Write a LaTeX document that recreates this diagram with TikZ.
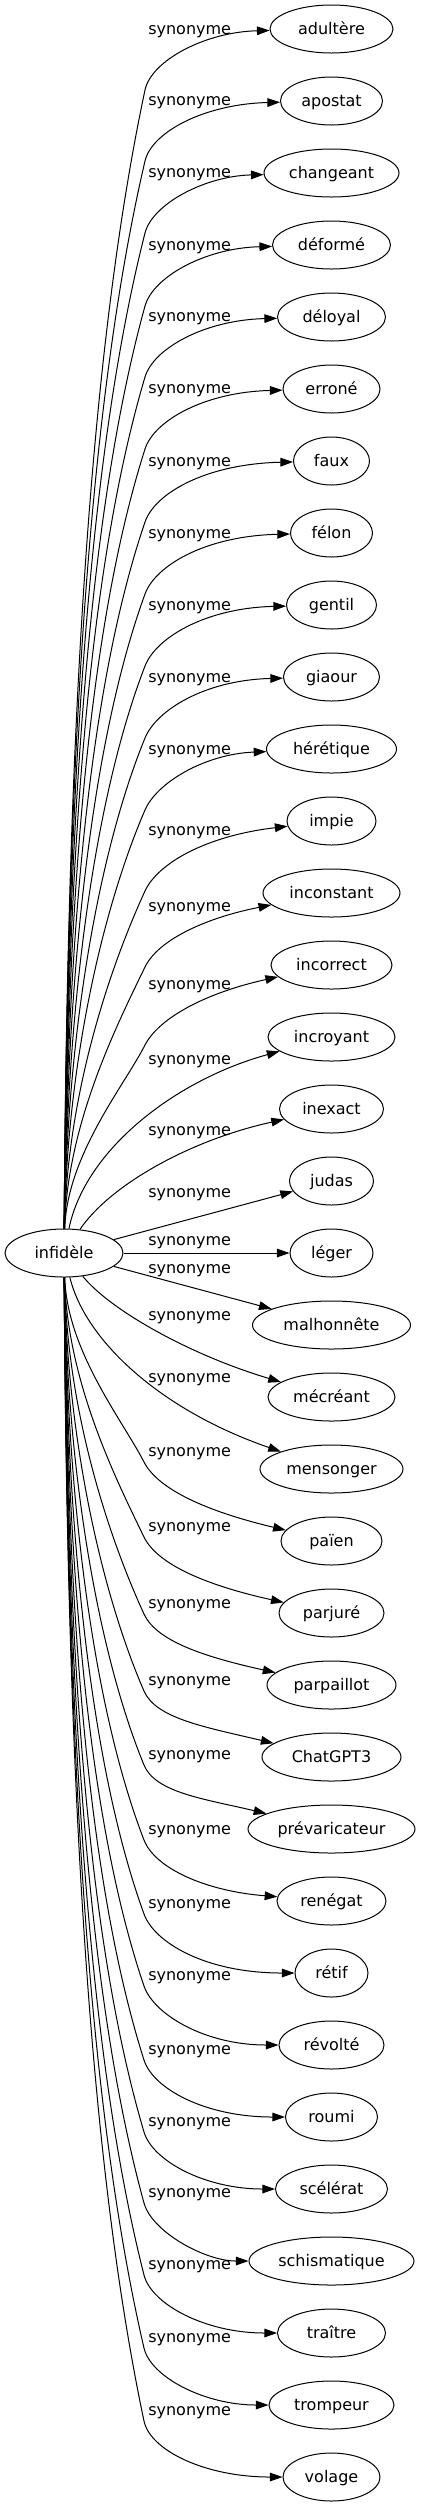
\documentclass[tikz,border=0pt]{standalone}
\usepackage{fontspec}
\setmainfont{DejaVu Sans}
\usepackage{tikz}
\usetikzlibrary{shapes.geometric, arrows.meta, calc}
\tikzset{
	word/.style={ellipse, draw=black, line width=0.75pt, inner xsep=0pt, inner ysep=0pt, minimum height=36pt, text height=10.5pt, text depth=2pt, font=\fontsize{12}{14}\selectfont},
	rel/.style={anchor=west, inner sep=0pt, font=\fontsize{12}{14}\selectfont},
	link/.style={line width=0.75pt, -{Triangle[length=9.5pt, width=6.5pt]}},
}

\begin{document}
\begin{tikzpicture}[x=0.75pt, y=-0.75pt]
	\useasboundingbox (0,0) rectangle (421,2507);
	% centre word
	\node[word, minimum width=88.5pt] (infidele) at (64,1253) {infidèle};
	% synonyms, one column
	\foreach \i/\w/\txt in {1/123/adultère, 2/102/apostat, 3/135/changeant, 4/118/déformé, 5/108/déloyal,
		6/97/erroné, 7/76/faux, 8/82/félon, 9/90/gentil, 10/96/giaour, 11/130/hérétique, 12/89/impie,
		13/137/inconstant, 14/121/incorrect, 15/127/incroyant, 16/104/inexact, 17/84/judas, 18/83/léger,
		19/158/malhonnête, 20/127/mécréant, 21/143/mensonger, 22/101/païen, 23/105/parjuré, 24/129/parpaillot,
		25/139/ChatGPT3, 26/167/prévaricateur, 27/109/renégat, 28/73/rétif, 29/105/révolté, 30/92/roumi,
		31/112/scélérat, 32/165/schismatique, 33/108/traître, 34/125/trompeur, 35/97/volage} {
		\node[word, minimum width=0.75pt*\w] (syn\i) at (331.5,{29+72*(\i-1)}) {\txt};
	}
	% edge labels
	\foreach \i/\ly in {1/32, 2/103, 3/175, 4/248, 5/319, 6/391, 7/464, 8/536, 9/608, 10/680, 11/752, 12/833,
		13/909, 14/987, 15/1062, 16/1133, 17/1195, 18/1243, 19/1271, 20/1318, 21/1380, 22/1454, 23/1529,
		24/1606, 25/1683, 26/1757, 27/1832, 28/1906, 29/1978, 30/2052, 31/2124, 32/2195, 33/2267, 34/2340, 35/2413} {
		\node[rel] (lab\i) at (148,\ly) {synonyme};
	}
	% upper edges: up from the top of the centre word, bend under the label
	\foreach \i/\ly/\ey in {1/32/3, 2/103/3, 3/175/3, 4/248/3, 5/319/3, 6/391/3, 7/464/3, 8/536/3, 9/608/3,
		10/680/3, 11/752/5, 12/833/15, 13/909/25, 14/987/28} {
		\pgfmathsetmacro\yy{29+72*(\i-1)}
		\pgfmathsetmacro\d{1229-(\ly+58)}
		\pgfmathsetmacro\ang{-(60+18*(\d/1139))}
		\pgfmathsetmacro\angb{\ang+180}
		\pgfmathsetmacro\la{0.4*\d}
		\pgfmathsetmacro\lb{0.25*\d}
		\coordinate (bend\i) at (145,{\ly+58});
		\draw[link] (infidele) .. controls (67,{1229-\la}) and ($(bend\i)+(\angb:\lb)$) .. (bend\i)
			.. controls +(\ang:30) and (205,{\yy+\ey}) .. (syn\i);
	}
	% lower edges: down from the bottom, bend beside the label
	\foreach \i/\ly/\ey in {22/1454/-30, 23/1529/-28, 24/1606/-28, 25/1683/-30, 26/1757/-30, 27/1832/-10,
		28/1906/0, 29/1978/0, 30/2052/0, 31/2124/0, 32/2195/0, 33/2267/0, 34/2340/0, 35/2413/0} {
		\pgfmathsetmacro\yy{29+72*(\i-1)}
		\pgfmathsetmacro\d{(\ly+8)-1277}
		\pgfmathsetmacro\ang{60+18*(\d/1139)}
		\pgfmathsetmacro\angb{\ang+180}
		\pgfmathsetmacro\la{0.4*\d}
		\pgfmathsetmacro\lb{0.25*\d}
		\coordinate (bend\i) at (144,{\ly+8});
		\draw[link] (infidele) .. controls (67,{1277+\la}) and ($(bend\i)+(\angb:\lb)$) .. (bend\i)
			.. controls +(\ang:30) and (205,{\yy+\ey}) .. (syn\i);
	}
	% edges close to the centre word
	\foreach \i/\ax/\ay/\bx/\by in {15/85/1150/175/1080, 16/110/1185/190/1140, 20/110/1310/190/1355, 21/85/1340/160/1410} {
		\draw[link] (infidele) .. controls (\ax,\ay) and (\bx,\by) .. (syn\i);
	}
	\foreach \i in {17,18,19} {
		\draw[link] (infidele) -- (syn\i);
	}
\end{tikzpicture}
\end{document}
